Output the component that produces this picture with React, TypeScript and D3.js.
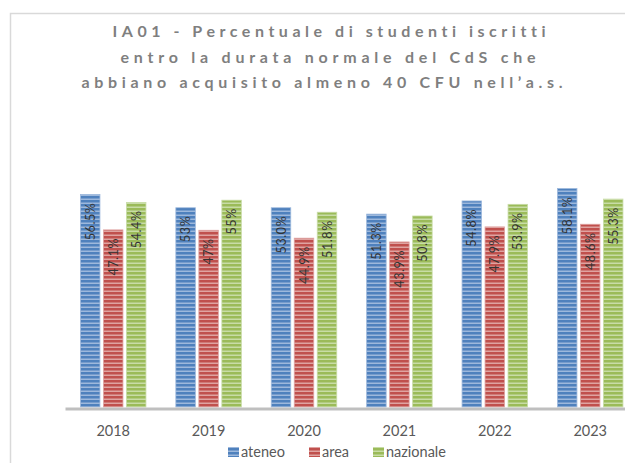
import * as d3 from "d3";
import { useEffect, useRef } from "react";

// --- Data ---
const years = ["2018", "2019", "2020", "2021", "2022", "2023"];
const seriesNames = ["ateneo", "area", "nazionale"];
const ateneo = [56.5, 53, 53.0, 51.3, 54.8, 58.1];
const area = [47.1, 47, 44.9, 43.9, 47.9, 48.6];
const nazionale = [54.4, 55, 51.8, 50.8, 53.9, 55.3];
const ateneoLabels = ["56.5%", "53%", "53.0%", "51.3%", "54.8%", "58.1%"];
const areaLabels = ["47.1%", "47%", "44.9%", "43.9%", "47.9%", "48.6%"];
const nazionaleLabels = ["54.4%", "55%", "51.8%", "50.8%", "53.9%", "55.3%"];
const titleLines = [
  "IA01 - Percentuale di studenti iscritti",
  "entro la durata normale del CdS che",
  "abbiano acquisito almeno 40 CFU nell\u2019a.s.",
];

const colors = ["#4f81bd", "#c0504d", "#9bbb59"];
const lightColors = ["#9db8dc", "#dfa3a1", "#c8dca6"];
const FONT = "Lato, 'Open Sans', sans-serif";

const App = () => {
  const svgRef = useRef<SVGSVGElement | null>(null);

  useEffect(() => {
    if (!svgRef.current) return;
    const svg = d3.select(svgRef.current);
    svg.selectAll("*").remove();

    const width = 625;
    const height = 463;
    const baseline = 407;

    const values = [ateneo, area, nazionale];
    const labels = [ateneoLabels, areaLabels, nazionaleLabels];

    // striped fills, one per series
    const defs = svg.append("defs");
    seriesNames.forEach((name, i) => {
      const p = defs
        .append("pattern")
        .attr("id", `stripe-${name}`)
        .attr("patternUnits", "userSpaceOnUse")
        .attr("width", 8)
        .attr("height", 4);
      p.append("rect").attr("width", 8).attr("height", 4).attr("fill", colors[i]);
      p.append("rect").attr("y", 2.5).attr("width", 8).attr("height", 1.5).attr("fill", lightColors[i]);
    });

    // white background + chart frame (cropped on right and bottom)
    svg.append("rect").attr("width", width).attr("height", height).attr("fill", "#fff");
    svg
      .append("path")
      .attr("d", `M10.5,${height} V13.5 H${width}`)
      .attr("fill", "none")
      .attr("stroke", "#d9d9d9")
      .attr("stroke-width", 1.5);

    // title
    const titleLengths = [433, 415, 481];
    const titleCenters = [329, 328, 322];
    svg
      .append("g")
      .selectAll("text")
      .data(titleLines)
      .join("text")
      .attr("x", (_d, i) => titleCenters[i])
      .attr("y", (_d, i) => 37 + i * 25.5)
      .attr("text-anchor", "middle")
      .attr("font-family", FONT)
      .attr("font-weight", "bold")
      .attr("font-size", 16)
      .attr("fill", "#7f7f7f")
      .style("font-variant-ligatures", "none")
      .attr("textLength", (_d, i) => titleLengths[i])
      .attr("lengthAdjust", "spacing")
      .text((d) => d);

    // scales
    const x = d3.scaleBand().domain(years).range([65.5, 65.5 + 6 * 95.4]);
    const xs = d3.scalePoint().domain(seriesNames).range([-23, 23]);
    const y = d3.scaleLinear().domain([0, 100]).range([baseline, baseline - 376]);
    const barW = 19.5;

    const cx = (yr: string) => (x(yr) ?? 0) + x.bandwidth() / 2;

    // bars
    seriesNames.forEach((name, si) => {
      const g = svg.append("g");
      const rows = years.map((yr, i) => ({ yr, v: values[si][i], label: labels[si][i] }));
      g.selectAll("rect")
        .data(rows)
        .join("rect")
        .attr("x", (d) => cx(d.yr) + (xs(name) ?? 0) - barW / 2)
        .attr("y", (d) => y(d.v))
        .attr("width", barW)
        .attr("height", (d) => y(0) - y(d.v))
        .attr("fill", `url(#stripe-${name})`)
        .attr("stroke", lightColors[si])
        .attr("stroke-width", 0.8);

      g.selectAll("text")
        .data(rows)
        .join("text")
        .attr("transform", (d) => `translate(${cx(d.yr) + (xs(name) ?? 0)},${y(d.v) + 8}) rotate(-90)`)
        .attr("text-anchor", "end")
        .attr("dominant-baseline", "central")
        .attr("font-family", FONT)
        .attr("font-size", 12.5)
        .attr("letter-spacing", 0.6)
        .attr("fill", "#333")
        .text((d) => d.label);
    });

    // x axis line
    svg
      .append("line")
      .attr("x1", 65.5)
      .attr("x2", width)
      .attr("y1", baseline + 2)
      .attr("y2", baseline + 2)
      .attr("stroke", "#bfbfbf")
      .attr("stroke-width", 3);

    // tick labels
    svg
      .append("g")
      .selectAll("text")
      .data(years)
      .join("text")
      .attr("x", (d) => cx(d))
      .attr("y", 436)
      .attr("text-anchor", "middle")
      .attr("font-family", FONT)
      .attr("font-size", 14.5)
      .attr("fill", "#595959")
      .text((d) => d);

    // legend
    const legendX = [228, 309, 373];
    const legend = svg
      .append("g")
      .selectAll("g")
      .data(seriesNames)
      .join("g")
      .attr("transform", (_d, i) => `translate(${legendX[i]},452)`);
    legend
      .append("rect")
      .attr("y", -5)
      .attr("width", 11)
      .attr("height", 10)
      .attr("fill", (d) => `url(#stripe-${d})`);
    legend
      .append("text")
      .attr("x", 13)
      .attr("y", 5)
      .attr("font-family", FONT)
      .attr("font-size", 14.5)
      .attr("fill", "#595959")
      .text((d) => d);
  }, []);

  return <svg ref={svgRef} width={625} height={463} style={{ position: "absolute", left: 0, top: 0 }} />;
};

export default App;
